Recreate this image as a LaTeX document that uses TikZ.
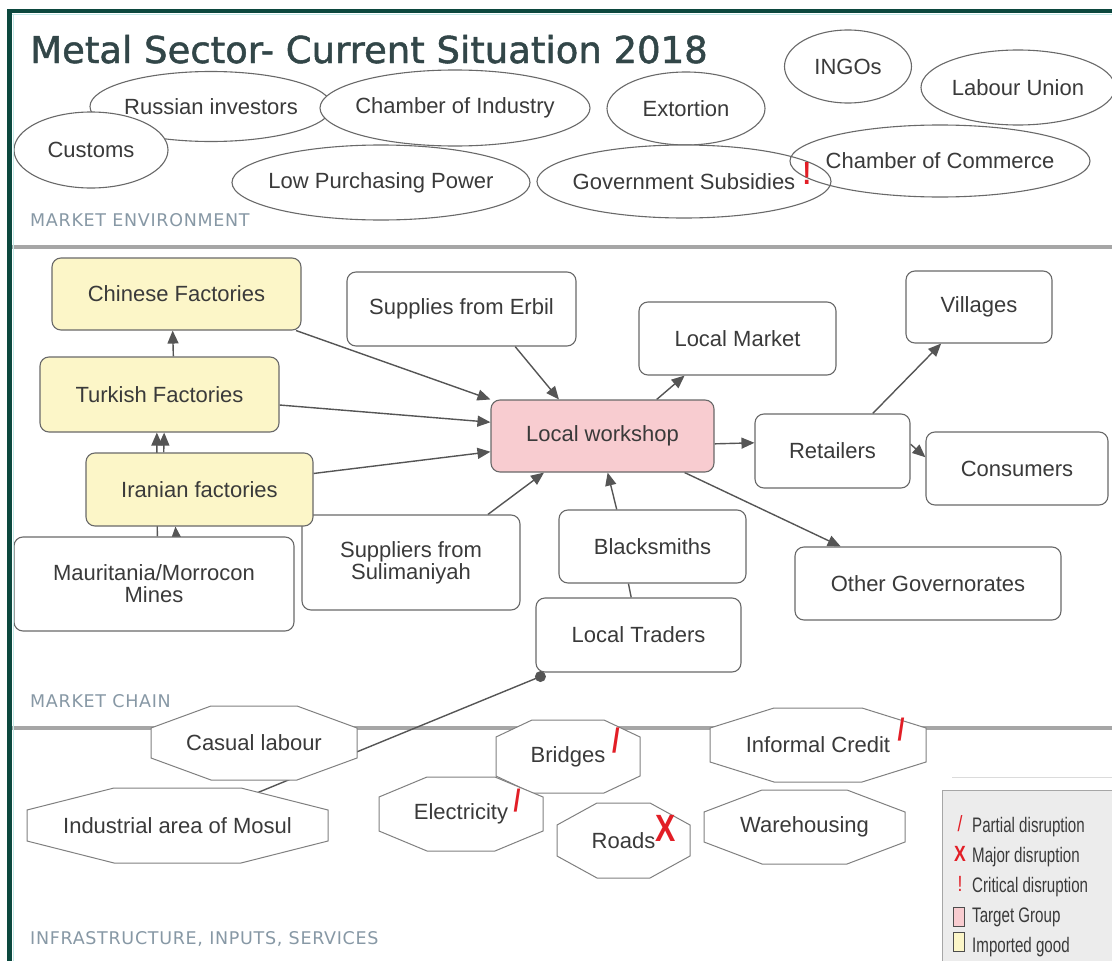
\documentclass[tikz,border=0pt]{standalone}
\usepackage{fontspec}
\setmainfont{Liberation Sans}
\newfontfamily\titlefont[FakeBold=1.3]{DejaVu Sans}
\newfontfamily\labfont[LetterSpace=4]{DejaVu Sans}
\newfontfamily\narrowfont[FakeStretch=0.72]{Liberation Sans}
\newfontfamily\redfont[FakeStretch=0.8]{Liberation Sans}
\usetikzlibrary{shapes.geometric,arrows.meta,calc}
\pgfdeclarelayer{seplayer}
\pgfdeclarelayer{connlayer}
\pgfsetlayers{seplayer,connlayer,main}
\definecolor{framec}{RGB}{12,72,62}
\definecolor{frameinner}{RGB}{196,234,232}
\definecolor{titlec}{RGB}{50,70,72}
\definecolor{labc}{RGB}{135,152,165}
\definecolor{linec}{RGB}{105,105,105}
\definecolor{txtc}{RGB}{58,58,58}
\definecolor{arrc}{RGB}{85,85,85}
\definecolor{sepc}{RGB}{166,166,166}
\definecolor{yellowf}{RGB}{252,246,200}
\definecolor{pinkf}{RGB}{248,204,208}
\definecolor{redm}{RGB}{226,30,38}
\definecolor{legf}{RGB}{236,236,236}
\definecolor{octc}{RGB}{128,128,128}
\tikzset{
  envline/.style={draw=linec,line width=1.1pt,fill=white},
  envopen/.style={draw=linec,line width=1.1pt},
  envtext/.style={inner sep=0pt,text=txtc,font=\fontsize{22}{24}\selectfont},
  box/.style={rectangle,rounded corners=9pt,draw=linec,line width=1.1pt,fill=white,inner sep=0pt,text=txtc,font=\fontsize{22}{22}\selectfont,align=center},
  yelbox/.style={box,fill=yellowf},
  pinkbox/.style={box,fill=pinkf},
  octline/.style={draw=octc,line width=1pt,fill=white},
  octtext/.style={inner sep=0pt,text=txtc,font=\fontsize{22}{24}\selectfont},
  arr/.style={draw=arrc,line width=1.4pt,-{Triangle[length=13pt,width=11pt]}},
  plainline/.style={draw=arrc,line width=1.4pt},
  seclab/.style={anchor=base west,inner sep=0pt,text=labc,font=\labfont\fontsize{17.5}{20}\selectfont},
  redsign/.style={inner sep=0pt,text=redm,font=\redfont\bfseries\fontsize{34}{34}\selectfont},
  legtext/.style={anchor=base west,inner sep=0pt,text=txtc,font=\narrowfont\fontsize{21}{22}\selectfont},
  legsign/.style={inner sep=0pt,text=redm,font=\redfont\fontsize{22}{22}\selectfont},
  legsq/.style={draw=black!70,line width=1pt,inner sep=0pt,minimum width=11pt,minimum height=19pt}
}
\newcommand{\envell}[6]{%
  \filldraw[envline] (#2,#3) ellipse [x radius=#4pt, y radius=#5pt];
  \node[envtext] (#1) at (#2,#3) {#6};}
\newcommand{\envopenell}[6]{%
  \draw[envopen] (#2,#3) ellipse [x radius=#4pt, y radius=#5pt];
  \node[envtext] (#1) at (#2,#3) {#6};}
\newcommand{\octshape}[8]{%
  \filldraw[octline] ({#2-#4+#6},{#3-#5}) -- ({#2+#4-#6},{#3-#5}) -- ({#2+#4},{#3-#5+#7}) -- ({#2+#4},{#3+#5-#7}) -- ({#2+#4-#6},{#3+#5}) -- ({#2-#4+#6},{#3+#5}) -- ({#2-#4},{#3+#5-#7}) -- ({#2-#4},{#3-#5+#7}) -- cycle;
  \node[octtext] (#1) at (#2,#3) {#8};}
\begin{document}
\begin{tikzpicture}[x=1pt,y=-1pt]
\useasboundingbox (0,0) rectangle (1112,961);
% background and separators
\begin{pgfonlayer}{seplayer}
\fill[white] (0,0) rectangle (1112,961);
\draw[sepc,line width=4pt] (12,247) -- (1112,247);
\draw[sepc,line width=4pt] (12,728) -- (1112,728);
\end{pgfonlayer}
% title and section labels
\node[anchor=base west,inner sep=0pt,text=titlec,font=\titlefont\fontsize{37}{40}\selectfont] (title) at (30,63) {Metal Sector- Current Situation 2018};
\node[seclab] (labenv) at (30,226) {MARKET ENVIRONMENT};
\node[seclab] (labchain) at (30,707) {MARKET CHAIN};
\node[seclab] (labinfra) at (30,944) {INFRASTRUCTURE, INPUTS, SERVICES};
% market environment
\envell{russian}{211}{106.5}{121}{35}{Russian investors}
\envell{industry}{455}{108}{135}{38}{Chamber of Industry}
\envell{customs}{91}{150}{77}{38}{Customs}
\envell{extortion}{686}{108.5}{79}{36.5}{Extortion}
\envell{lowpp}{381}{182.5}{149}{37.5}{Low Purchasing Power}
\envell{ingos}{848}{66.5}{63.5}{36.5}{INGOs}
\envell{labour}{1018}{87.5}{97}{37.5}{Labour Union}
\fill[white] (684,181.5) ellipse [x radius=147pt, y radius=36.5pt];
\envopenell{commerce}{940}{161}{150}{36}{Chamber of Commerce}
\envopenell{govsub}{684}{181.5}{147}{36.5}{Government Subsidies}
\node[redsign,font=\redfont\bfseries\fontsize{32}{32}\selectfont] (govmark) at (807,173) {!};
% market chain
\node[box,minimum width=218pt,minimum height=95pt] (sulim) at (411,562.5) {Suppliers from\\Sulimaniyah};
\node[yelbox,minimum width=249pt,minimum height=72pt] (chinese) at (176.5,294) {Chinese Factories};
\node[yelbox,minimum width=239pt,minimum height=75pt] (turkish) at (159.5,394.5) {Turkish Factories};
\node[box,minimum width=280pt,minimum height=94pt] (mines) at (154,584) {Mauritania/Morrocon\\Mines};
\node[yelbox,minimum width=227pt,minimum height=73pt] (iranian) at (199.5,489.5) {Iranian factories};
\node[box,minimum width=229pt,minimum height=74pt] (erbil) at (461.5,309) {Supplies from Erbil};
\node[pinkbox,minimum width=223pt,minimum height=72pt] (workshop) at (602.5,436) {Local workshop};
\node[box,minimum width=197pt,minimum height=73pt] (lmarket) at (737.5,338.5) {Local Market};
\node[box,minimum width=146pt,minimum height=72pt] (villages) at (979,307) {Villages};
\node[box,minimum width=155pt,minimum height=74pt] (retailers) at (832.5,451) {Retailers};
\node[box,minimum width=182pt,minimum height=73pt] (consumers) at (1017,468.5) {Consumers};
\node[box,minimum width=187pt,minimum height=73pt] (blacksmiths) at (652.5,546.5) {Blacksmiths};
\node[box,minimum width=266pt,minimum height=73pt] (other) at (928,583.5) {Other Governorates};
\node[box,minimum width=205pt,minimum height=74pt] (traders) at (638.5,635) {Local Traders};
\node[circle,fill=arrc,inner sep=0pt,minimum size=11pt] (tdot) at ([shift={(5pt,-4pt)}]traders.south west) {};
% infrastructure
\octshape{mosul}{177.5}{825.5}{150.5}{37.5}{87}{22}{Industrial area of Mosul}
\octshape{casual}{254}{743}{103}{37}{60}{22}{Casual labour}
\octshape{bridges}{568}{756.5}{72}{36.5}{36}{17}{Bridges}
\octshape{electricity}{461}{814}{82}{37}{48}{20}{Electricity}
\octshape{credit}{818}{745}{108}{37}{64}{20}{Informal Credit}
\octshape{roads}{623.5}{840.5}{66.5}{37.5}{40}{22}{Roads}
\octshape{warehousing}{804.5}{827}{100.5}{37}{58}{22}{Warehousing}
\node[redsign] (bridgemark) at (616,741) {/};
\node[redsign,font=\redfont\bfseries\fontsize{31}{31}\selectfont] (creditmark) at (901,730) {/};
\node[redsign,font=\redfont\bfseries\fontsize{31}{31}\selectfont] (elecmark) at (517,801) {/};
\node[redsign,font=\redfont\bfseries\fontsize{38}{38}\selectfont] (roadsmark) at (666,828) {X};
% connectors
\begin{pgfonlayer}{connlayer}
\draw[arr] (chinese.-17) -- (workshop.north west);
\draw[arr] (turkish.-5) -- (workshop.173);
\draw[arr] (iranian.8) -- (workshop.-172);
\draw[arr] (turkish.70) -- (chinese.-96);
\draw[arr] (iranian.134) -- (turkish.-83);
\draw[arr] (mines.86) -- (turkish.-94);
\draw[arr] (mines.65) -- (iranian.-123);
\draw[arr] (sulim.32) -- (workshop.-148);
\draw[arr] (erbil.-35) -- (workshop.140);
\draw[arr] (workshop.34) -- (lmarket.-145);
\draw[arr] (workshop.-4) -- (retailers.174);
\draw[arr] (workshop.-24) -- (other.157);
\draw[arr] (blacksmiths.134) -- (workshop.-82);
\draw[plainline] (traders.101) -- (blacksmiths.-123);
\draw[arr] (retailers.43) -- (villages.-136);
\draw[arr] (retailers.5) -- (consumers.173);
\draw[plainline] (tdot.center) -- (mosul.center);
\end{pgfonlayer}
% legend
\draw[black!14,line width=1pt] (952,777) -- (1112,777);
\filldraw[fill=legf,draw=black!35,line width=1pt] (942,790) rectangle (1114,963);
\node[legsign,font=\redfont\fontsize{22}{22}\selectfont] (ls1) at (960,824) {/};
\node[legtext] (lt1) at (972,832) {Partial disruption};
\node[legsign,font=\redfont\bfseries\fontsize{22}{22}\selectfont] (ls2) at (960,854) {X};
\node[legtext] (lt2) at (972,862) {Major disruption};
\node[legsign,font=\redfont\fontsize{22}{22}\selectfont] (ls3) at (960,884) {!};
\node[legtext] (lt3) at (972,892) {Critical disruption};
\node[legsq,fill=pinkf] (ls4) at (959,917) {};
\node[legtext] (lt4) at (972,922) {Target Group};
\node[legsq,fill=yellowf] (ls5) at (959,942) {};
\node[legtext] (lt5) at (972,952) {Imported good};
% frame
\fill[framec] (7,9) rectangle (1112,13);
\fill[framec] (7,9) rectangle (12,961);
\draw[frameinner,line width=1pt] (12,14) -- (1112,14);
\draw[frameinner,line width=1pt] (13,14) -- (13,961);
\end{tikzpicture}
\end{document}
